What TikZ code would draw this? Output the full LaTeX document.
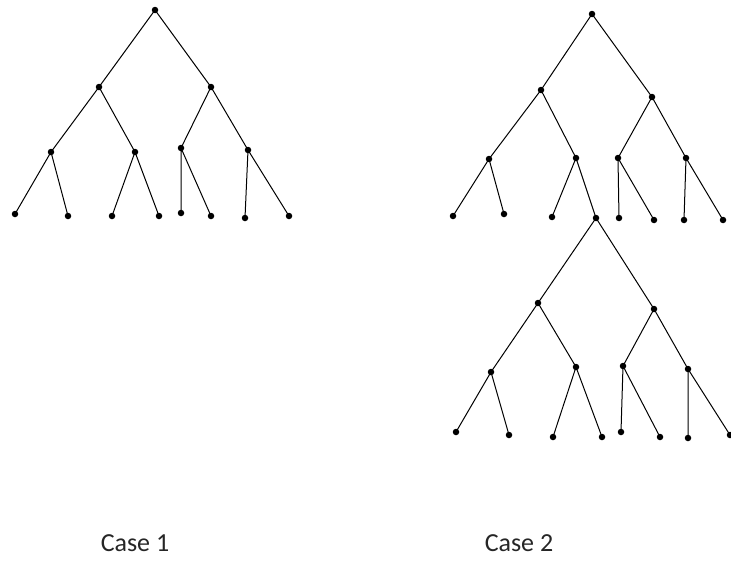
\documentclass[tikz,border=0pt]{standalone}
\usepackage{fontspec}
\setmainfont{Carlito}
\begin{document}
\begin{tikzpicture}[x=1pt,y=-1pt,
  dot/.style={circle,fill=black,inner sep=0pt,minimum size=6.5pt},
  edge/.style={draw=black,line width=1pt},
  lbl/.style={font=\fontsize{26}{30}\selectfont,text=black!85}]
\useasboundingbox (0,0) rectangle (731,562);
% ---------- Case 1 ----------
\node[dot] (r) at (155,10) {};
\node[dot] (a1) at (99,87) {};
\node[dot] (a2) at (211,87) {};
\node[dot] (b1) at (51,152) {};
\node[dot] (b2) at (135,152) {};
\node[dot] (b3) at (181,148) {};
\node[dot] (b4) at (248,150) {};
\node[dot] (c1) at (15,214) {};
\node[dot] (c2) at (68,216) {};
\node[dot] (c3) at (112,216) {};
\node[dot] (c4) at (159,216) {};
\node[dot] (c5) at (181,213) {};
\node[dot] (c6) at (211,216) {};
\node[dot] (c7) at (245,218) {};
\node[dot] (c8) at (289,216) {};
\path[edge] (r.center) -- (a1.center) (r.center) -- (a2.center)
  (a1.center) -- (b1.center) (a1.center) -- (b2.center)
  (a2.center) -- (b3.center) (a2.center) -- (b4.center)
  (b1.center) -- (c1.center) (b1.center) -- (c2.center)
  (b2.center) -- (c3.center) (b2.center) -- (c4.center)
  (b3.center) -- (c5.center) (b3.center) -- (c6.center)
  (b4.center) -- (c7.center) (b4.center) -- (c8.center);
% ---------- Case 2, upper tree ----------
\node[dot] (R) at (592,14) {};
\node[dot] (A1) at (541,90) {};
\node[dot] (A2) at (652,97) {};
\node[dot] (B1) at (489,159) {};
\node[dot] (B2) at (576,158) {};
\node[dot] (B3) at (618,158) {};
\node[dot] (B4) at (686,158) {};
\node[dot] (C1) at (453,216) {};
\node[dot] (C2) at (504,214) {};
\node[dot] (C3) at (552,217) {};
\node[dot] (C4) at (596,218) {};
\node[dot] (C5) at (619,218) {};
\node[dot] (C6) at (654,220) {};
\node[dot] (C7) at (684,220) {};
\node[dot] (C8) at (723,220) {};
\path[edge] (R.center) -- (A1.center) (R.center) -- (A2.center)
  (A1.center) -- (B1.center) (A1.center) -- (B2.center)
  (A2.center) -- (B3.center) (A2.center) -- (B4.center)
  (B1.center) -- (C1.center) (B1.center) -- (C2.center)
  (B2.center) -- (C3.center) (B2.center) -- (C4.center)
  (B3.center) -- (C5.center) (B3.center) -- (C6.center)
  (B4.center) -- (C7.center) (B4.center) -- (C8.center);
% ---------- Case 2, lower tree (rooted at C4) ----------
\node[dot] (D1) at (538,303) {};
\node[dot] (D2) at (654,309) {};
\node[dot] (E1) at (491,372) {};
\node[dot] (E2) at (576,367) {};
\node[dot] (E3) at (623,366) {};
\node[dot] (E4) at (688,369) {};
\node[dot] (F1) at (456,432) {};
\node[dot] (F2) at (509,435) {};
\node[dot] (F3) at (553,437) {};
\node[dot] (F4) at (602,437) {};
\node[dot] (F5) at (621,432) {};
\node[dot] (F6) at (660,437) {};
\node[dot] (F7) at (688,438) {};
\node[dot] (F8) at (730,435) {};
\path[edge] (C4.center) -- (D1.center) (C4.center) -- (D2.center)
  (D1.center) -- (E1.center) (D1.center) -- (E2.center)
  (D2.center) -- (E3.center) (D2.center) -- (E4.center)
  (E1.center) -- (F1.center) (E1.center) -- (F2.center)
  (E2.center) -- (F3.center) (E2.center) -- (F4.center)
  (E3.center) -- (F5.center) (E3.center) -- (F6.center)
  (E4.center) -- (F7.center) (E4.center) -- (F8.center);
% ---------- labels ----------
\node[lbl] (L1) at (135,543) {Case 1};
\node[lbl] (L2) at (519,543) {Case 2};
\end{tikzpicture}
\end{document}
